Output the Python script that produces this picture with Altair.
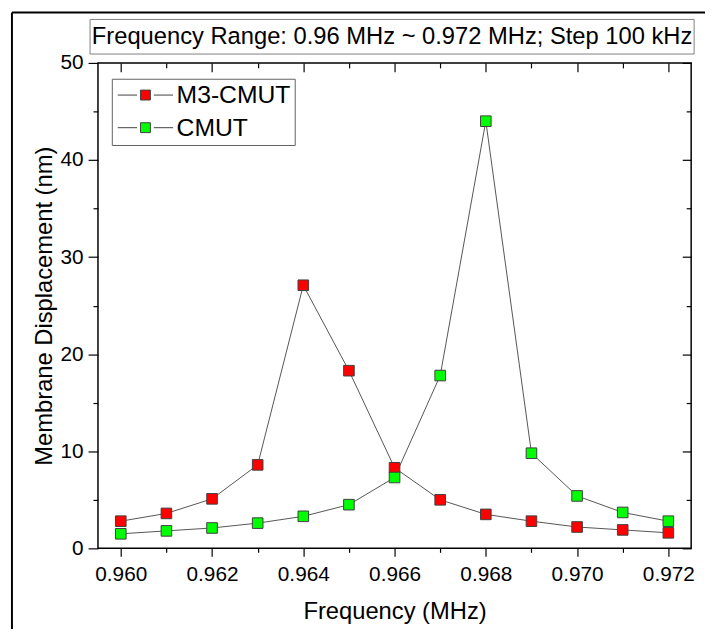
import altair as alt
import pandas as pd

freq = [0.960, 0.961, 0.962, 0.963, 0.964, 0.965, 0.966, 0.967, 0.968, 0.969, 0.970, 0.971, 0.972]
m3_cmut = [2.8, 3.6, 5.1, 8.6, 27.1, 18.3, 8.3, 5.0, 3.5, 2.8, 2.2, 1.9, 1.6]
cmut = [1.5, 1.8, 2.1, 2.6, 3.3, 4.5, 7.3, 17.8, 44.0, 9.8, 5.4, 3.7, 2.8]
series_names = ["M3-CMUT", "CMUT"]
series_colors = ["#ff0000", "#00ff00"]
x_major = [0.960, 0.962, 0.964, 0.966, 0.968, 0.970, 0.972]
x_minor = [0.961, 0.963, 0.965, 0.967, 0.969, 0.971]
y_major = [0, 10, 20, 30, 40, 50]
y_minor = [5, 15, 25, 35, 45]
title_text = "Frequency Range: 0.96 MHz ~ 0.972 MHz; Step 100 kHz"

rows = []
for name, vals in zip(series_names, [m3_cmut, cmut]):
    for f, v in zip(freq, vals):
        rows.append({"freq": f, "disp": v, "series": name})
df = pd.DataFrame(rows)

W, H = 600, 491
FONT = "Liberation Sans"
xscale = alt.Scale(domain=[0.9595, 0.9725], nice=False, zero=False)
yscale = alt.Scale(domain=[0, 50], nice=False)


def xaxis(values, size, labels, offset=0, title=None):
    kw = dict(values=values, tickSize=size, labels=labels, orient="bottom", grid=False,
              domain=False, tickColor="black", tickWidth=1.2)
    if offset:
        kw["offset"] = offset
    if labels:
        kw.update(format=".3f", labelFont=FONT, labelFontSize=21, labelColor="black", labelPadding=8)
    if title:
        kw.update(title=title, titleFont=FONT, titleFontSize=24, titleFontWeight="normal",
                  titleColor="black", titlePadding=15)
    else:
        kw["title"] = None
    return alt.Axis(**kw)


def yaxis(values, size, labels, offset=0, title=None):
    kw = dict(values=values, tickSize=size, labels=labels, orient="left", grid=False,
              domain=False, tickColor="black", tickWidth=1.2)
    if offset:
        kw["offset"] = offset
    if labels:
        kw.update(format="d", labelFont=FONT, labelFontSize=21, labelColor="black", labelPadding=5)
    if title:
        kw.update(title=title, titleFont=FONT, titleFontSize=24, titleFontWeight="normal",
                  titleColor="black", titlePadding=4)
    else:
        kw["title"] = None
    return alt.Axis(**kw)


base = alt.Chart(df)

lines = base.mark_line(color="#555555", strokeWidth=1).encode(
    x=alt.X("freq:Q", scale=xscale, axis=xaxis(x_major, 8, True, title="Frequency (MHz)")),
    y=alt.Y("disp:Q", scale=yscale, axis=yaxis(y_major, 10, True, title="Membrane Displacement (nm)")),
    detail="series:N",
)

legend = alt.Legend(
    title=None, orient="none", legendX=14, legendY=16,
    symbolType="M-5.6,0H-1.7M1.7,0H5.6M-1,-1H1V1H-1Z",
    symbolSize=100, symbolStrokeColor="#404040", symbolStrokeWidth=1,
    symbolOffset=17.5, labelOffset=19,
    labelFont=FONT, labelFontSize=25, labelColor="black",
    padding=4, rowPadding=7, strokeColor="#606060", fillColor="white",
)

points = base.mark_point(shape="square", filled=True, size=115, stroke="#404040",
                         strokeWidth=1, opacity=1).encode(
    x=alt.X("freq:Q", scale=xscale, axis=xaxis(x_minor, 4, False)),
    y=alt.Y("disp:Q", scale=yscale, axis=yaxis(y_minor, 5, False)),
    fill=alt.Fill("series:N", scale=alt.Scale(domain=series_names, range=series_colors),
                  sort=series_names, legend=legend),
)

mirror_major = base.mark_line(opacity=0).encode(
    x=alt.X("freq:Q", scale=xscale, axis=xaxis(x_major, 9, False, offset=-H)),
    y=alt.Y("disp:Q", scale=yscale, axis=yaxis(y_major, 9, False, offset=-W)),
    detail="series:N",
)

mirror_minor = base.mark_line(opacity=0).encode(
    x=alt.X("freq:Q", scale=xscale, axis=xaxis(x_minor, 5, False, offset=-H)),
    y=alt.Y("disp:Q", scale=yscale, axis=yaxis(y_minor, 5, False, offset=-W)),
    detail="series:N",
)

one = pd.DataFrame({"t": [title_text]})
title_box = alt.Chart(one).mark_rect(fill="white", stroke="#808080", strokeWidth=1).encode(
    x=alt.value(-8), x2=alt.value(603), y=alt.value(-44), y2=alt.value(-9)
)
title_label = alt.Chart(one).mark_text(font=FONT, fontSize=24, color="black",
                                       align="center", baseline="middle").encode(
    x=alt.value(297.5), y=alt.value(-26), text="t:N"
)
frame_v = alt.Chart(one).mark_rule(color="black", strokeWidth=2).encode(
    x=alt.value(-87), y=alt.value(-51), y2=alt.value(H + 90)
)
frame_h = alt.Chart(one).mark_rule(color="black", strokeWidth=2).encode(
    x=alt.value(-87), x2=alt.value(W + 40), y=alt.value(-51)
)

chart = alt.layer(
    frame_v, frame_h, title_box, title_label,
    mirror_major, mirror_minor, lines, points
).resolve_axis(x="independent", y="independent").properties(
    width=W, height=H,
    autosize=alt.AutoSizeParams(type="none"),
    padding={"left": 91, "top": 52, "right": 14, "bottom": 78},
    background="white",
).configure_view(stroke="black", strokeWidth=1.5)

chart.save("out.html", embed_options={"renderer": "svg", "actions": False})
